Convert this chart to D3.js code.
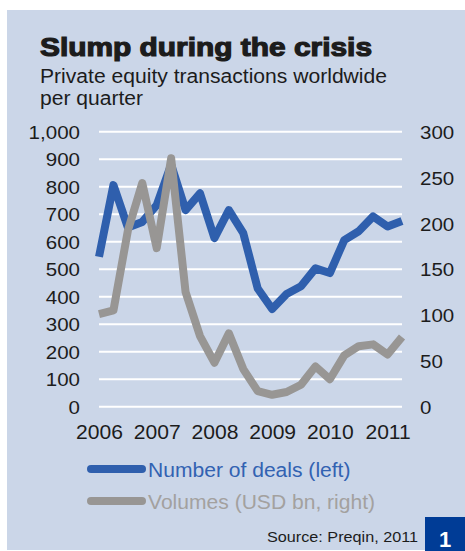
<!DOCTYPE html>
<html>
<head>
<meta charset="utf-8">
<script src="https://cdn.jsdelivr.net/npm/d3@7"></script>
<style>
  html, body { margin: 0; padding: 0; background: #ffffff; }
  svg { display: block; }
  text { font-family: "Liberation Sans", Arial, sans-serif; }
</style>
</head>
<body>
<svg id="chart" width="465" height="551"></svg>
<script>
// ---- Data ----
const quarters = ["2006Q1","2006Q2","2006Q3","2006Q4","2007Q1","2007Q2","2007Q3","2007Q4",
                  "2008Q1","2008Q2","2008Q3","2008Q4","2009Q1","2009Q2","2009Q3","2009Q4",
                  "2010Q1","2010Q2","2010Q3","2010Q4","2011Q1","2011Q2"];
const deals = [545, 806, 652, 672, 733, 880, 715, 776, 613, 715, 631, 430,
               355, 410, 438, 503, 486, 606, 638, 692, 655, 675];
const volumes = [101, 105, 192, 244, 173, 271, 125, 77, 48, 80, 41, 17,
                 13, 16, 24, 44, 30, 56, 66, 68, 57, 76];
const yearLabels = ["2006","2007","2008","2009","2010","2011"];
const leftTicks = [0,100,200,300,400,500,600,700,800,900,1000];
const rightTicks = [0,50,100,150,200,250,300];

// ---- Colours ----
const bg = "#CBD6E8", blue = "#2F5FAD", gray = "#989694", ink = "#1c1c1c";
const FONT = "Liberation Sans, Arial, sans-serif";

const svg = d3.select("#chart");

// panel
svg.append("rect").attr("x", 7).attr("y", 10).attr("width", 458).attr("height", 540).attr("fill", bg);

// title
svg.append("text").attr("class", "fixed").attr("x", 40).attr("y", 56)
  .attr("font-size", 26).attr("font-weight", 900).attr("fill", ink)
  .attr("stroke", ink).attr("stroke-width", 1.2)
  .attr("textLength", 332).attr("lengthAdjust", "spacingAndGlyphs")
  .text("Slump during the crisis");
svg.append("text").attr("class", "fixed").attr("x", 40).attr("y", 83)
  .attr("font-size", 19.5).attr("fill", ink)
  .attr("textLength", 347).attr("lengthAdjust", "spacingAndGlyphs")
  .text("Private equity transactions worldwide");
svg.append("text").attr("x", 40).attr("y", 105)
  .attr("font-size", 19.5).attr("fill", ink)
  .text("per quarter");

// scales
const x = d3.scalePoint().domain(quarters).range([99, 402]);
const yL = d3.scaleLinear().domain([0, 1000]).range([406.7, 131.7]);
const yR = d3.scaleLinear().domain([0, 300]).range([406.7, 131.7]);

// gridlines
svg.append("g").selectAll("line").data(leftTicks).join("line")
  .attr("x1", 99).attr("x2", 402)
  .attr("y1", d => yL(d)).attr("y2", d => yL(d))
  .attr("stroke", "#ffffff").attr("stroke-width", 2);

// left axis
const axL = svg.append("g").attr("transform", "translate(88,0)")
  .call(d3.axisLeft(yL).tickValues(leftTicks).tickSize(0).tickPadding(0)
        .tickFormat(d3.format(",")));
axL.select(".domain").remove();
axL.selectAll("text").attr("font-size", 19).attr("fill", ink)
  .attr("font-family", FONT).attr("x", -8).attr("dy", "0.35em");

// right axis
const axR = svg.append("g").attr("transform", "translate(414,0)")
  .call(d3.axisRight(yR).tickValues(rightTicks).tickSize(0).tickPadding(0));
axR.select(".domain").remove();
axR.selectAll("text").attr("font-size", 19).attr("fill", ink)
  .attr("font-family", FONT).attr("x", 6).attr("dy", "0.35em");

// bottom axis (year labels at first quarter)
const axB = svg.append("g").attr("transform", "translate(0,425)")
  .call(d3.axisBottom(x).tickValues(yearLabels.map(y => y + "Q1")).tickSize(0).tickPadding(0)
        .tickFormat(d => d.slice(0, 4)));
axB.select(".domain").remove();
axB.selectAll("text").attr("font-size", 19.5).attr("fill", ink)
  .attr("font-family", FONT).attr("y", 0).attr("dy", "0.71em");

// lines
const lineL = d3.line().x((d, i) => x(quarters[i])).y(d => yL(d));
const lineR = d3.line().x((d, i) => x(quarters[i])).y(d => yR(d));
svg.append("path").datum(deals).attr("d", lineL)
  .attr("fill", "none").attr("stroke", blue).attr("stroke-width", 8)
  .attr("stroke-linejoin", "round");
svg.append("path").datum(volumes).attr("d", lineR)
  .attr("fill", "none").attr("stroke", gray).attr("stroke-width", 8)
  .attr("stroke-linejoin", "round");

// legend
const legend = [
  {label: "Number of deals (left)", color: blue, text: "#3262B2", y: 469},
  {label: "Volumes (USD bn, right)", color: gray, text: "#A3A19F", y: 501}
];
const lg = svg.append("g").selectAll("g").data(legend).join("g");
lg.append("line").attr("x1", 91).attr("x2", 142)
  .attr("y1", d => d.y).attr("y2", d => d.y)
  .attr("stroke", d => d.color).attr("stroke-width", 8).attr("stroke-linecap", "round");
lg.append("text").attr("x", 148).attr("y", d => d.y + 7.5)
  .attr("font-size", 19.5).attr("fill", d => d.text).text(d => d.label);

// source
svg.append("text").attr("x", 418).attr("y", 542).attr("text-anchor", "end")
  .attr("font-size", 15).attr("fill", ink).text("Source: Preqin, 2011");

// badge
svg.append("rect").attr("x", 425).attr("y", 517).attr("width", 40).attr("height", 34).attr("fill", "#003C96");
svg.append("text").attr("class", "fixed").attr("x", 445).attr("y", 547).attr("text-anchor", "middle")
  .attr("font-size", 22).attr("font-weight", "bold").attr("fill", "#ffffff").text("1");

// the reference artwork is slightly wider than the font's natural widths
svg.selectAll("text:not(.fixed)").each(function() {
  const w = this.getComputedTextLength();
  d3.select(this).attr("textLength", (w * 1.08).toFixed(1)).attr("lengthAdjust", "spacingAndGlyphs");
});
</script>
</body>
</html>
